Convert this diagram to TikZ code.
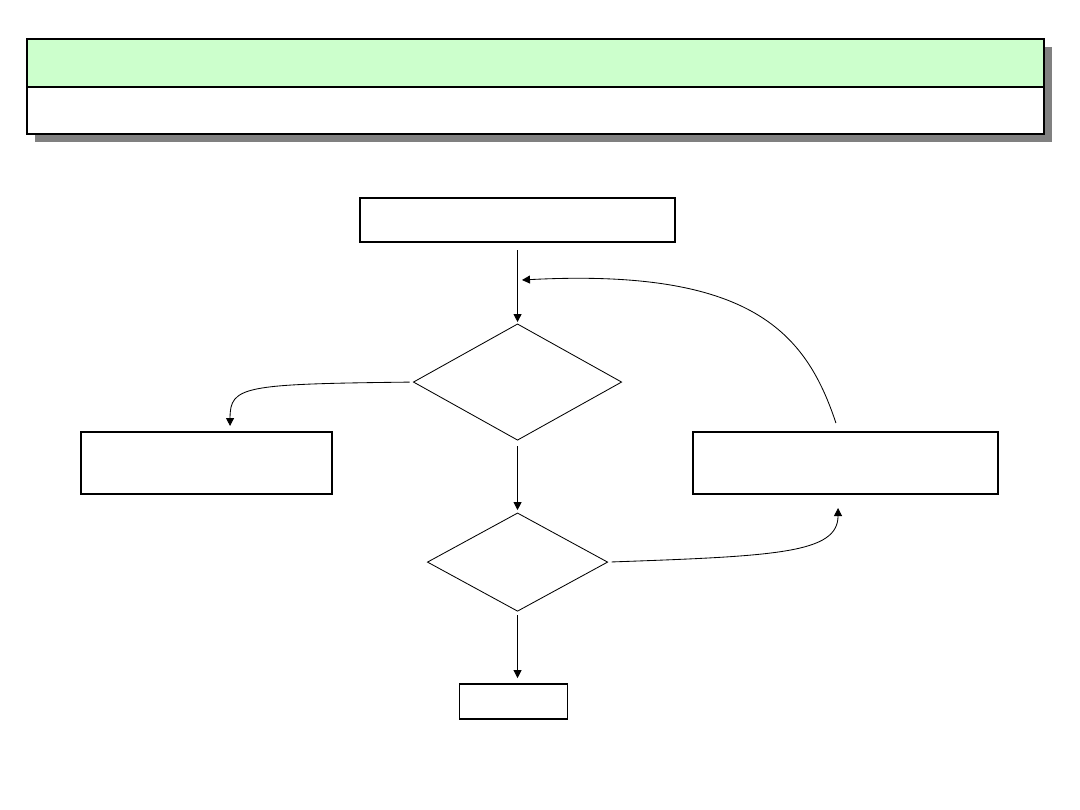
\documentclass[tikz,border=0pt]{standalone}
\usepackage{xcolor}
\definecolor{headgreen}{HTML}{CCFFCC}
\definecolor{shadowgray}{HTML}{808080}
\usetikzlibrary{arrows.meta,positioning,shapes.geometric}
\tikzset{
  nb/.style={draw, line width=0.95pt, inner sep=0pt, outer sep=0pt, anchor=north west},
  ndia/.style={draw, diamond, line width=0.6pt, inner sep=0pt, outer sep=0pt},
  nhead/.style={draw, line width=1.1pt, inner sep=0pt, outer sep=0pt, anchor=north west,
                minimum width=25.425cm, minimum height=1.2cm},
  ar/.style={-{Triangle[length=2mm,width=2mm]}, line width=0.6pt},
}
\begin{document}
\begin{tikzpicture}[x=0.025cm, y=-0.025cm, node distance=2.05cm]
  \useasboundingbox (0,0) rectangle (1080,810);
  % header bar with its shadow
  \fill[shadowgray] (35,47) rectangle (1052,142);
  \node[nhead, fill=headgreen] (head) at (27,39) {};
  \node[nhead, fill=white, minimum height=1.175cm] (sub) at (27,87) {};
  % main chain
  \node[nb, minimum width=7.875cm, minimum height=1.1cm] (start) at (360,198) {};
  \node[ndia, minimum width=5.2cm, minimum height=2.9cm, below=2.05cm of start] (cond) {};
  \node[ndia, minimum width=4.5cm, minimum height=2.45cm, below=1.825cm of cond] (check) {};
  \node[nb, minimum width=2.7cm, minimum height=0.875cm, below=1.825cm of check, xshift=-0.1cm] (stop) {};
  % side boxes
  \node[nb, minimum width=6.275cm, minimum height=1.55cm] (lbox) at (81,432) {};
  \node[nb, minimum width=7.625cm, minimum height=1.55cm] (rbox) at (693,432) {};
  \coordinate (lin) at ([xshift=3.725cm, yshift=0.15cm]lbox.north west);
  \coordinate (rin) at ([xshift=3.625cm, yshift=-0.35cm]rbox.south west);
  \coordinate (back) at (522,280);
  \draw[ar, shorten <=0.2cm, shorten >=0.05cm] (start) -- (cond);
  \draw[ar, shorten <=0.15cm, shorten >=0.075cm] (cond) -- (check);
  \draw[ar, shorten <=0.1cm, shorten >=0.15cm] (check.south) -- (check.south |- stop.north);
  \draw[ar, shorten <=0.1cm] (cond.west) .. controls +(-170,2) and +(0,-40) .. (lin);
  \draw[ar, shorten <=0.1cm] (check.east) .. controls +(170,-6) and +(0,45) .. (rin);
  \draw[ar] ([xshift=-0.24cm, yshift=0.225cm]rbox.north) .. controls +(-30,-90) and +(230,-12) .. (back);
\end{tikzpicture}
\end{document}
